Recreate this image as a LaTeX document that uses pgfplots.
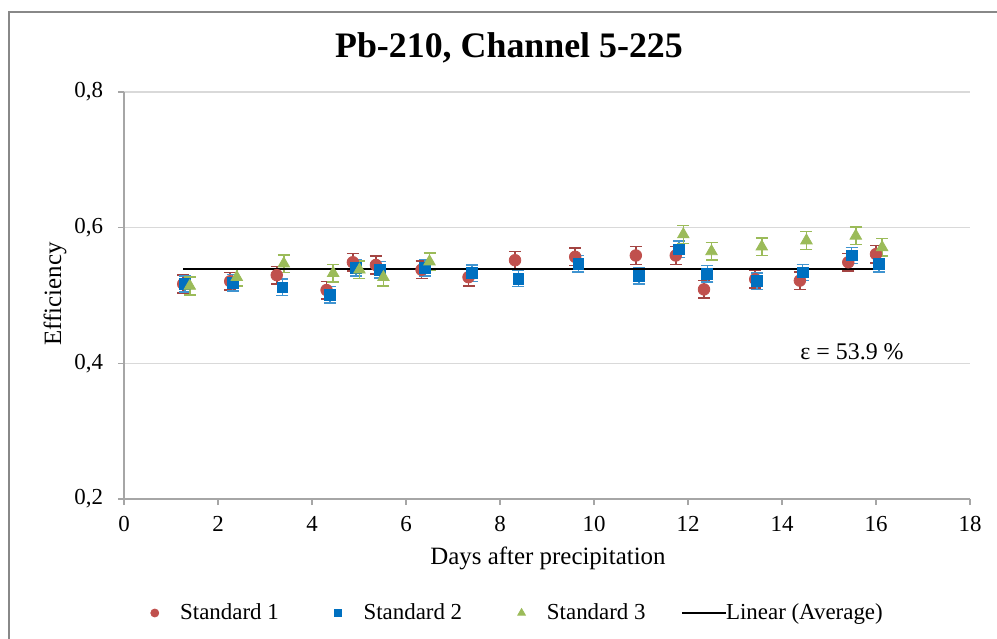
\documentclass[border=0pt]{standalone}
\usepackage{fontspec}
\setmainfont{Liberation Serif}
\usepackage{pgfplots}
\pgfplotsset{compat=1.18}

\definecolor{sred}{HTML}{C0504D}
\definecolor{sblue}{HTML}{0070C0}
\definecolor{sgreen}{HTML}{9BBB59}
\definecolor{gridgray}{HTML}{D9D9D9}
\definecolor{axgray}{HTML}{A6A6A6}
\definecolor{framegray}{HTML}{888888}

\pgfplotsset{
  dotlegend/.style={legend image code/.code={\path (-3bp,0) (10.5bp,0); \draw[##1, mark size=#1] plot coordinates {(0,0)};}},
  linelegend/.style={legend image code/.code={\draw[##1, overlay] (-9bp,0) -- (13bp,0); \path (0,0) (10.5bp,0);}},
}

\begin{document}
\begin{tikzpicture}
\useasboundingbox (0,0) rectangle (498.5bp,319.5bp);
% outer chart frame (left and top only visible)
\draw[framegray, line width=1.25bp] (4.5bp,0) -- (4.5bp,313.5bp) -- (498.5bp,313.5bp);

\node[font=\fontsize{18}{20}\selectfont\bfseries, anchor=base] at (254.5bp,290.5bp) {Pb-210, Channel 5-225};
\node[font=\fontsize{12.5}{14}\selectfont, rotate=90] at (27.5bp,172.5bp) {Efficiency};
\node[font=\fontsize{12.5}{14}\selectfont, anchor=base] at (274bp,37.5bp) {Days after precipitation};

\begin{axis}[
  at={(62bp,70bp)}, anchor=south west,
  scale only axis, width=423bp, height=203.5bp,
  xmin=0, xmax=18, ymin=0.2, ymax=0.8,
  xtick={0,2,...,18}, ytick={0.2,0.4,0.6,0.8},
  axis x line*=bottom, axis y line*=left,
  axis line style={axgray, line width=0.75bp},
  tick style={axgray, line width=0.75bp},
  tick align=outside, major tick length=3bp,
  ymajorgrids, grid style={gridgray, line width=0.75bp},
  tick label style={font=\fontsize{11.5}{13}\selectfont},
  xticklabel style={yshift=-2bp},
  /pgf/number format/assume math mode=true,
  yticklabel style={xshift=-4bp, /pgf/number format/.cd, use comma, fixed, fixed zerofill, precision=1},
  error bars/y dir=both, error bars/y explicit,
  error bars/error bar style={line width=0.75bp},
  legend columns=4,
  legend style={draw=none, fill=none, at={(9bp,-57bp)}, anchor=west,
    font=\fontsize{11.5}{13}\selectfont,
    /tikz/every even column/.append style={column sep=24.5bp}},
]
\addplot[only marks, mark=*, mark size=2.9bp, sred, mark options={draw=sred, fill=sred},
  error bars/error bar style={sred!85!black, line width=0.75bp},
  error bars/error mark options={sred!85!black, rotate=90, mark size=3bp, line width=0.75bp},
  dotlegend=2bp]
coordinates {
 (1.26,0.517) +- (0,0.013) (2.26,0.521) +- (0,0.013) (3.25,0.530) +- (0,0.013)
 (4.31,0.508) +- (0,0.013) (4.87,0.549) +- (0,0.013) (5.36,0.545) +- (0,0.013)
 (6.33,0.538) +- (0,0.013) (7.33,0.527) +- (0,0.013) (8.32,0.552) +- (0,0.013)
 (9.60,0.557) +- (0,0.013) (10.89,0.559) +- (0,0.013) (11.74,0.559) +- (0,0.013)
 (12.34,0.509) +- (0,0.013) (13.43,0.524) +- (0,0.013) (14.38,0.522) +- (0,0.013)
 (15.41,0.549) +- (0,0.013) (16.00,0.561) +- (0,0.013)};
\addlegendentry{Standard 1}

\addplot[only marks, mark=square*, mark size=2.7bp, sblue, mark options={draw=sblue, fill=sblue},
  error bars/error bar style={sblue!75!white, line width=0.75bp},
  error bars/error mark options={sblue!75!white, rotate=90, mark size=3bp, line width=0.75bp},
  dotlegend=1.8bp]
coordinates {
 (1.30,0.517) +- (0,0.012) (2.31,0.519) +- (0,0.012) (3.37,0.512) +- (0,0.012)
 (4.38,0.501) +- (0,0.012) (4.94,0.541) +- (0,0.012) (5.45,0.538) +- (0,0.012)
 (6.40,0.541) +- (0,0.012) (7.40,0.533) +- (0,0.012) (8.39,0.525) +- (0,0.012)
 (9.67,0.547) +- (0,0.012) (10.96,0.529) +- (0,0.012) (11.81,0.568) +- (0,0.012)
 (12.41,0.532) +- (0,0.012) (13.47,0.521) +- (0,0.012) (14.44,0.534) +- (0,0.012)
 (15.48,0.559) +- (0,0.012) (16.06,0.547) +- (0,0.012)};
\addlegendentry{Standard 2}

\addplot[only marks, mark=triangle*, mark size=3.3bp, sgreen, mark options={draw=sgreen, fill=sgreen},
  error bars/error bar style={sgreen, line width=0.75bp},
  error bars/error mark options={sgreen, rotate=90, mark size=3bp, line width=0.75bp},
  dotlegend=2.2bp]
coordinates {
 (1.40,0.514) +- (0,0.013) (2.40,0.527) +- (0,0.013) (3.40,0.547) +- (0,0.013)
 (4.45,0.533) +- (0,0.013) (5.01,0.538) +- (0,0.013) (5.52,0.527) +- (0,0.013)
 (6.50,0.550) +- (0,0.013) (11.90,0.590) +- (0,0.013) (12.50,0.565) +- (0,0.013)
 (13.57,0.572) +- (0,0.013) (14.52,0.581) +- (0,0.013) (15.57,0.588) +- (0,0.013)
 (16.13,0.571) +- (0,0.013)};
\addlegendentry{Standard 3}

\addplot[black, line width=1.25bp, no marks, linelegend]
coordinates {(1.26,0.539) (16.00,0.539)};
\addlegendentry{Linear (Average)}

\node[font=\fontsize{12}{14}\selectfont] at (axis cs:15.49,0.417) {ε = 53.9 \%};
\end{axis}
\end{tikzpicture}
\end{document}
